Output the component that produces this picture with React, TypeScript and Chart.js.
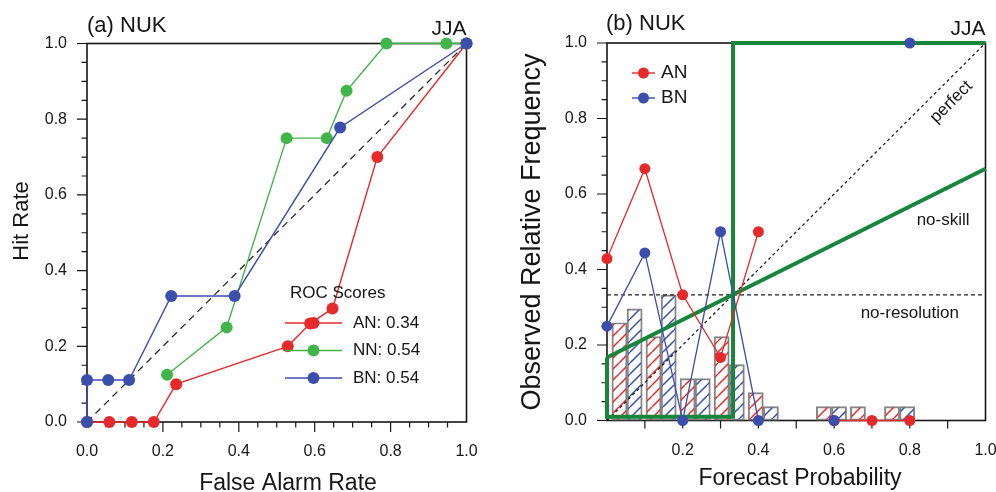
import React, { useEffect, useRef } from 'react';
import { Chart, registerables } from 'chart.js';

Chart.register(...registerables);

// ---------- (a) ROC curves: false alarm rate vs hit rate ----------
const rocFarAN = [0, 0.059, 0.118, 0.176, 0.235, 0.529, 0.588, 0.647, 0.765, 1];
const rocHitAN = [0, 0, 0, 0, 0.1, 0.2, 0.26, 0.3, 0.7, 1];
const rocFarNN = [0.211, 0.368, 0.526, 0.632, 0.684, 0.789, 0.947, 1];
const rocHitNN = [0.125, 0.25, 0.75, 0.75, 0.875, 1, 1, 1];
const rocFarBN = [0, 0, 0.056, 0.111, 0.222, 0.389, 0.667, 1];
const rocHitBN = [0, 0.111, 0.111, 0.111, 0.333, 0.333, 0.778, 1];
const rocCategories = ['AN', 'NN', 'BN'];
const rocScores = [0.34, 0.54, 0.54];
const chanceX = [0, 1];
const chanceY = [0, 1];

// ---------- (b) Reliability diagram ----------
const forecastProb = [0, 0.1, 0.2, 0.3, 0.4, 0.5, 0.6, 0.7, 0.8];
const obsFreqAN = [0.429, 0.667, 0.333, 0.167, 0.5, null, 0, 0, 0];
const obsFreqBN = [0.25, 0.444, 0, 0.5, 0, null, 0, null, 1];
// sharpness histogram (relative number of forecasts per bin)
const histCentres = [0.053, 0.143, 0.233, 0.323, 0.413, 0.503, 0.593, 0.683, 0.773];
const sharpnessAN = [0.259, 0.222, 0.111, 0.222, 0.074, null, 0.037, 0.037, 0.037];
const sharpnessBN = [0.296, 0.333, 0.111, 0.148, 0.037, null, 0.037, null, 0.037];
const reliabilityCategories = ['AN', 'BN'];
// reference lines
const perfectX = [0, 1];
const perfectY = [0, 1];
const noResolutionX = [0, 1];
const noResolutionY = [0.333, 0.333];
const noSkillX = [0, 1];
const noSkillY = [0.167, 0.667];
const skillEdgeX = [0, 0, 0.333, 0.333, 1];
const skillEdgeY = [0.167, 0.01, 0.01, 1, 1];

const FONT = '"Liberation Sans", Arial, Helvetica, sans-serif';
const INK = '#161616';
const RED = '#e62a2c';
const GREEN = '#41b54a';
const BLUE = '#3a4eac';
const SKILL = '#17853a';
const BAR_EDGE = '#858585';

type Pt = { x: number; y: number | null };
const zip = (xs: number[], ys: (number | null)[]): Pt[] => xs.map((x, i) => ({ x, y: ys[i] }));

function hatch(color: string): CanvasPattern | string {
  const c = document.createElement('canvas');
  const s = 11;
  c.width = s;
  c.height = s;
  const g = c.getContext('2d');
  if (!g) return 'transparent';
  g.strokeStyle = color;
  g.lineWidth = 1.5;
  g.beginPath();
  g.moveTo(0, s);
  g.lineTo(s, 0);
  g.moveTo(-s, s);
  g.lineTo(0, 0);
  g.moveTo(s, s);
  g.lineTo(2 * s, 0);
  g.stroke();
  return g.createPattern(c, 'repeat') || 'transparent';
}

function drawText(
  ctx: CanvasRenderingContext2D,
  s: string,
  x: number,
  y: number,
  size: number,
  align: CanvasTextAlign = 'left',
  baseline: CanvasTextBaseline = 'alphabetic',
  rot = 0
) {
  ctx.save();
  ctx.translate(x, y);
  if (rot) ctx.rotate(rot);
  ctx.font = `${size}px ${FONT}`;
  ctx.fillStyle = INK;
  ctx.textAlign = align;
  ctx.textBaseline = baseline;
  ctx.fillText(s, 0, 0);
  ctx.restore();
}

// frame plus outward major/minor tick marks
function drawFrame(chart: any, xSpec: number[][], ySpec: number[][]) {
  const { ctx, chartArea: a } = chart;
  const xs = chart.scales.x;
  const ys = chart.scales.y;
  ctx.save();
  ctx.strokeStyle = INK;
  ctx.lineWidth = 1.2;
  ctx.beginPath();
  for (const [step, len] of xSpec) {
    const n = Math.round(1 / step);
    for (let i = 1; i < n; i++) {
      const px = xs.getPixelForValue(i * step);
      ctx.moveTo(px, a.bottom);
      ctx.lineTo(px, a.bottom + len);
    }
  }
  for (const [step, len] of ySpec) {
    const n = Math.round(1 / step);
    for (let i = 0; i <= n; i++) {
      const py = ys.getPixelForValue(i * step);
      ctx.moveTo(a.left, py);
      ctx.lineTo(a.left - len, py);
    }
  }
  ctx.stroke();
  ctx.lineWidth = 1.6;
  ctx.strokeRect(a.left, a.top, a.right - a.left, a.bottom - a.top);
  ctx.restore();
}

function legendEntry(ctx: CanvasRenderingContext2D, x0: number, x1: number, y: number, r: number, color: string) {
  ctx.save();
  ctx.strokeStyle = color;
  ctx.fillStyle = color;
  ctx.lineWidth = 1.4;
  ctx.beginPath();
  ctx.moveTo(x0, y);
  ctx.lineTo(x1, y);
  ctx.stroke();
  ctx.beginPath();
  ctx.arc((x0 + x1) / 2, y, r, 0, Math.PI * 2);
  ctx.fill();
  ctx.restore();
}

const tickFont = { family: FONT, size: 16, lineHeight: 1 };

function axisScales(yWidth: number, xHeight: number, xPad: number, yPad: number, hideZeroX: boolean) {
  return {
    x: {
      type: 'linear',
      min: 0,
      max: 1,
      offset: false,
      grid: { display: false, drawTicks: false, offset: false },
      border: { display: false },
      ticks: {
        stepSize: 0.2,
        autoSkip: false,
        maxRotation: 0,
        padding: xPad,
        color: INK,
        font: tickFont,
        callback: (v: any) => (hideZeroX && Number(v) === 0 ? '' : Number(v).toFixed(1)),
      },
      afterFit: (s: any) => {
        s.height = xHeight;
        s.paddingLeft = 0;
        s.paddingRight = 0;
      },
    },
    y: {
      type: 'linear',
      min: 0,
      max: 1,
      offset: false,
      grid: { display: false, drawTicks: false },
      border: { display: false },
      ticks: {
        stepSize: 0.2,
        padding: yPad,
        color: INK,
        font: tickFont,
        callback: (v: any) => Number(v).toFixed(1),
      },
      afterFit: (s: any) => {
        s.width = yWidth;
        s.paddingTop = 0;
        s.paddingBottom = 0;
      },
    },
  };
}

function rocConfig(): any {
  const series = [
    { xs: rocFarAN, ys: rocHitAN, color: RED },
    { xs: rocFarNN, ys: rocHitNN, color: GREEN },
    { xs: rocFarBN, ys: rocHitBN, color: BLUE },
  ];
  const datasets: any[] = [
    {
      label: 'chance',
      data: zip(chanceX, chanceY),
      showLine: true,
      borderColor: '#2a2a2a',
      borderWidth: 1.3,
      borderDash: [7, 5],
      pointRadius: 0,
      clip: false,
      order: 10,
    },
    ...series.map((s, i) => ({
      label: rocCategories[i],
      data: zip(s.xs, s.ys),
      showLine: true,
      borderColor: s.color,
      borderWidth: 1.4,
      backgroundColor: s.color,
      pointBackgroundColor: s.color,
      pointBorderColor: s.color,
      pointBorderWidth: 0,
      pointRadius: 6,
      clip: false,
      order: 5 - i,
    })),
  ];
  return {
    type: 'scatter',
    data: { datasets },
    options: {
      responsive: false,
      animation: false,
      events: [],
      layout: { padding: { left: 0, right: 31.5, top: 43.5, bottom: 0 } },
      plugins: { legend: { display: false }, tooltip: { enabled: false } },
      scales: axisScales(87, 70, 22, 20, false),
    },
    plugins: [
      {
        id: 'rocFrame',
        beforeDatasetsDraw(chart: any) {
          drawFrame(chart, [[0.2, 10], [0.05, 5.5]], [[0.2, 10], [0.05, 5.5]]);
        },
        afterDraw(chart: any) {
          const { ctx, chartArea: a } = chart;
          drawText(ctx, '(a) NUK', a.left, 32, 22);
          drawText(ctx, 'JJA', a.right, 35, 21, 'right');
          drawText(ctx, 'False Alarm Rate', 288, 490, 23, 'center');
          drawText(ctx, 'Hit Rate', 22, 221, 22, 'center', 'middle', -Math.PI / 2);
          drawText(ctx, 'ROC Scores', 290, 293, 17, 'left', 'middle');
          rocCategories.forEach((c, i) => {
            const y = 323 + i * 27.5;
            legendEntry(ctx, 285, 342, y, 6, series[i].color);
            drawText(ctx, `${c}: ${rocScores[i].toFixed(2)}`, 353, y, 17, 'left', 'middle');
          });
        },
      },
    ],
  };
}

function reliabilityConfig(): any {
  const half = 0.02;
  const bars = (ys: (number | null)[], shift: number) =>
    zip(histCentres.map((c) => c + shift), ys).filter((p) => p.y !== null);
  const refLine = (xs: number[], ys: number[], dash: number[]) => ({
    data: zip(xs, ys),
    showLine: true,
    borderColor: '#1e1e1e',
    borderWidth: 1.3,
    borderDash: dash,
    pointRadius: 0,
    order: 6,
  });
  const obs = (ys: (number | null)[], color: string, order: number) => ({
    data: zip(forecastProb, ys),
    showLine: true,
    spanGaps: false,
    borderColor: color,
    borderWidth: 1.3,
    backgroundColor: color,
    pointBackgroundColor: color,
    pointBorderColor: color,
    pointBorderWidth: 0,
    pointRadius: 5.5,
    clip: false,
    order,
  });
  const barSet = (ys: (number | null)[], shift: number, color: string) => ({
    type: 'bar',
    data: bars(ys, shift),
    backgroundColor: hatch(color),
    borderColor: BAR_EDGE,
    borderWidth: 1.3,
    borderSkipped: false,
    grouped: false,
    barPercentage: 1,
    categoryPercentage: 1,
    order: 8,
  });
  const datasets: any[] = [
    barSet(sharpnessAN, -half, RED),
    barSet(sharpnessBN, half, BLUE),
    refLine(perfectX, perfectY, [3, 3]),
    refLine(noResolutionX, noResolutionY, [4, 3]),
    refLine(noSkillX, noSkillY, [3, 3]),
    {
      data: zip(noSkillX, noSkillY),
      showLine: true,
      borderColor: SKILL,
      borderWidth: 4,
      pointRadius: 0,
      clip: false,
      order: 4,
    },
    {
      data: zip(skillEdgeX, skillEdgeY),
      showLine: true,
      borderColor: SKILL,
      borderWidth: 4,
      borderJoinStyle: 'miter',
      pointRadius: 0,
      clip: false,
      order: 4,
    },
    obs(obsFreqAN, RED, 2),
    obs(obsFreqBN, BLUE, 1),
  ];
  const colors = [RED, BLUE];
  return {
    type: 'scatter',
    data: { datasets },
    options: {
      responsive: false,
      animation: false,
      events: [],
      layout: { padding: { left: 0, right: 10.5, top: 43, bottom: 0 } },
      plugins: { legend: { display: false }, tooltip: { enabled: false } },
      scales: axisScales(109, 71.5, 22.5, 20, true),
    },
    plugins: [
      {
        id: 'relFrame',
        beforeDatasetsDraw(chart: any) {
          drawFrame(chart, [[0.1, 8]], [[0.2, 10], [0.05, 5.5]]);
        },
        afterDraw(chart: any) {
          const { ctx, chartArea: a } = chart;
          const xs = chart.scales.x;
          const ys = chart.scales.y;
          drawText(ctx, '(b) NUK', a.left - 1, 30, 22);
          drawText(ctx, 'JJA', a.right, 35, 21, 'right');
          drawText(ctx, 'Forecast Probability', 302, 485, 23, 'center');
          drawText(ctx, 'Observed Relative Frequency', 35, 232, 27, 'center', 'middle', -Math.PI / 2);
          reliabilityCategories.forEach((c, i) => {
            const y = 73 + i * 25;
            legendEntry(ctx, 134, 157, y, 5.5, colors[i]);
            drawText(ctx, c, 163, y, 19, 'left', 'middle');
          });
          drawText(ctx, 'perfect', xs.getPixelForValue(0.91), ys.getPixelForValue(0.844), 17, 'center', 'middle', -Math.PI / 4);
          drawText(ctx, 'no-skill', xs.getPixelForValue(0.888), ys.getPixelForValue(0.531), 17, 'center', 'middle');
          drawText(ctx, 'no-resolution', xs.getPixelForValue(0.8), ys.getPixelForValue(0.285), 17, 'center', 'middle');
        },
      },
    ],
  };
}

export default function App() {
  const leftRef = useRef<HTMLCanvasElement>(null);
  const rightRef = useRef<HTMLCanvasElement>(null);

  useEffect(() => {
    if (!leftRef.current || !rightRef.current) return;
    const roc = new Chart(leftRef.current, rocConfig());
    const rel = new Chart(rightRef.current, reliabilityConfig());
    return () => {
      roc.destroy();
      rel.destroy();
    };
  }, []);

  return (
    <div style={{ position: 'fixed', left: 0, top: 0, width: 996, height: 492, background: '#fff' }}>
      <canvas ref={leftRef} width={498} height={492} style={{ position: 'absolute', left: 0, top: 0 }} />
      <canvas ref={rightRef} width={498} height={492} style={{ position: 'absolute', left: 498, top: 0 }} />
    </div>
  );
}
